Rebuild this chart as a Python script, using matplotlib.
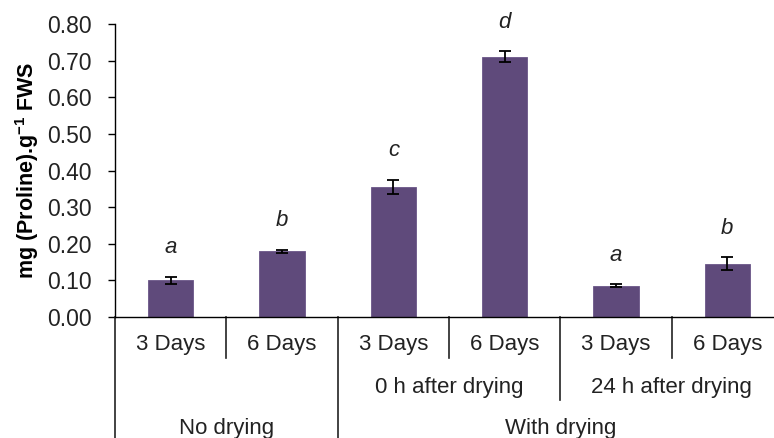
import matplotlib
matplotlib.use('Agg')
import matplotlib.pyplot as plt
import matplotlib.transforms as mtransforms

# dados
dias = ['3 Days', '6 Days', '3 Days', '6 Days', '3 Days', '6 Days']
prolina = [0.100, 0.180, 0.355, 0.710, 0.085, 0.145]
erro = [0.009, 0.004, 0.019, 0.015, 0.004, 0.018]
letras = ['a', 'b', 'c', 'd', 'a', 'b']
subgrupos = ['0 h after drying', '24 h after drying']
grupos = ['No drying', 'With drying']
yticks = [0.0, 0.1, 0.2, 0.3, 0.4, 0.5, 0.6, 0.7, 0.8]

plt.rcParams['font.family'] = ['Liberation Sans', 'DejaVu Sans']

fig = plt.figure(figsize=(7.74, 4.38), dpi=100)
ax = fig.add_axes([115 / 774, 121 / 438, 668 / 774, 293 / 438])

x = list(range(len(prolina)))
ax.bar(x, prolina, width=0.41, color='#5f4a7b', edgecolor='#6a5688', linewidth=0.6, zorder=2)
ax.errorbar(x, prolina, yerr=erro, fmt='none', ecolor='black', elinewidth=1.3,
            capsize=4, capthick=1.3, zorder=3)

# letras de significância
for xi, v, e, l in zip(x, prolina, erro, letras):
    ax.text(xi, v + e + 0.08, l, ha='center', va='center', fontsize=16,
            style='italic', color='#222222')

ax.set_xlim(-0.5, len(prolina) - 0.5)
ax.set_ylim(0, 0.8)
ax.set_yticks(yticks)
ax.set_yticklabels(['%.2f' % t for t in yticks], fontsize=16.5, color='#222222')
ax.tick_params(axis='y', direction='out', length=5, width=1, pad=12)
ax.set_xticks([])
ax.spines['top'].set_visible(False)
ax.spines['right'].set_visible(False)
ax.spines['left'].set_linewidth(1)
ax.spines['bottom'].set_linewidth(1)
ax.spines['left'].set_bounds(0, 0.8)

ax.set_ylabel('mg (Proline).g$^{\\mathregular{-1}}$ FWS', fontsize=15.5, fontweight='bold',
              labelpad=4)

# rótulos de categorias em vários níveis
trans = mtransforms.blended_transform_factory(ax.transData, ax.transAxes)
lc = '#222222'
for xi, d in zip(x, dias):
    ax.text(xi, -0.095, d, ha='center', va='center', fontsize=16, transform=trans, color='#222222')
# separadores da primeira linha
for b in [0.5, 2.5, 4.5]:
    ax.plot([b, b], [0, -0.14], color=lc, lw=1.2, transform=trans, clip_on=False)
# subgrupos
ax.text(2.5, -0.24, subgrupos[0], ha='center', va='center', fontsize=16, transform=trans, color='#222222')
ax.text(4.5, -0.24, subgrupos[1], ha='center', va='center', fontsize=16, transform=trans, color='#222222')
ax.plot([3.5, 3.5], [0, -0.283], color=lc, lw=1.2, transform=trans, clip_on=False)
# grupos
ax.text(0.5, -0.38, grupos[0], ha='center', va='center', fontsize=16, transform=trans, color='#222222')
ax.text(3.5, -0.38, grupos[1], ha='center', va='center', fontsize=16, transform=trans, color='#222222')
for b in [-0.5, 1.5]:
    ax.plot([b, b], [0, -0.6], color=lc, lw=1.2, transform=trans, clip_on=False)

fig.savefig('out.png', dpi=100)
plt.close()
